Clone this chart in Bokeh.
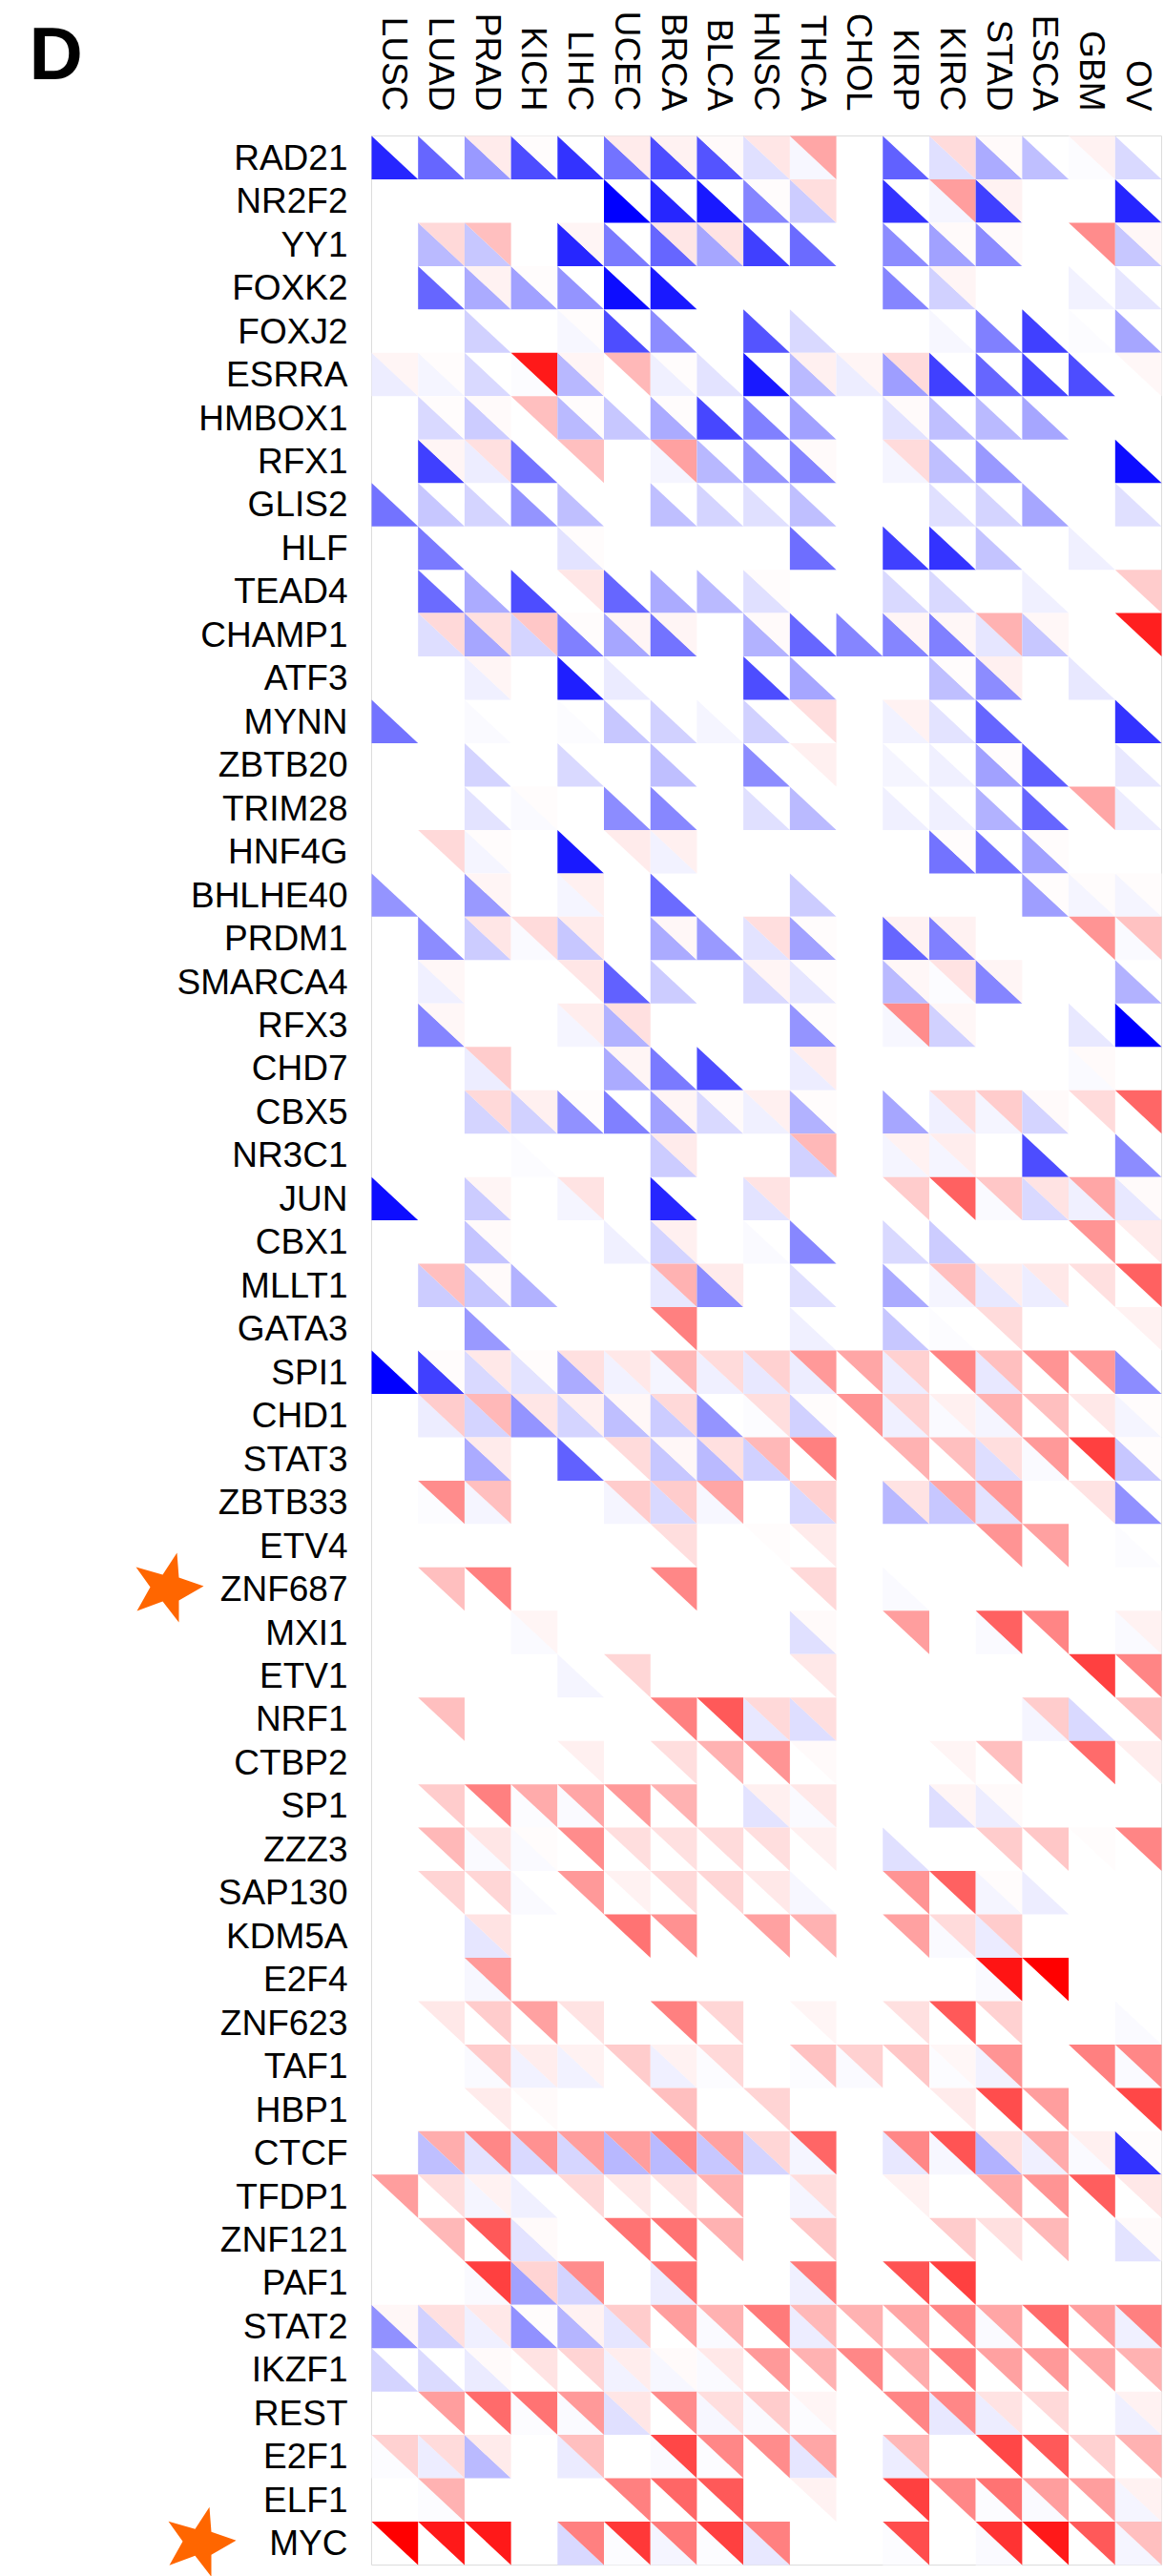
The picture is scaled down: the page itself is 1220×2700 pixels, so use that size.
import math
from bokeh.core.properties import value
from bokeh.embed import file_html
from bokeh.models import ColumnDataSource, Range1d
from bokeh.plotting import figure
from bokeh.resources import INLINE

CANCERS = ["LUSC", "LUAD", "PRAD", "KICH", "LIHC", "UCEC", "BRCA", "BLCA", "HNSC",
           "THCA", "CHOL", "KIRP", "KIRC", "STAD", "ESCA", "GBM", "OV"]
FACTORS = ["RAD21", "NR2F2", "YY1", "FOXK2", "FOXJ2", "ESRRA", "HMBOX1", "RFX1", "GLIS2", "HLF",
           "TEAD4", "CHAMP1", "ATF3", "MYNN", "ZBTB20", "TRIM28", "HNF4G", "BHLHE40", "PRDM1", "SMARCA4",
           "RFX3", "CHD7", "CBX5", "NR3C1", "JUN", "CBX1", "MLLT1", "GATA3", "SPI1", "CHD1",
           "STAT3", "ZBTB33", "ETV4", "ZNF687", "MXI1", "ETV1", "NRF1", "CTBP2", "SP1", "ZZZ3",
           "SAP130", "KDM5A", "E2F4", "ZNF623", "TAF1", "HBP1", "CTCF", "TFDP1", "ZNF121", "PAF1",
           "STAT2", "IKZF1", "REST", "E2F1", "ELF1", "MYC"]
STARRED = ["ZNF687", "MYC"]

# lower-left triangles: blue strength in percent
LOWER = [
    [85, 60, 40, 70, 80, 55, 70, 67, 12, 3, 0, 62, 12, 33, 25, 1, 15],
    [0, 0, 0, 0, 0, 100, 85, 90, 48, 20, 0, 80, 4, 75, 0, 0, 85],
    [0, 27, 22, 0, 85, 52, 60, 35, 75, 58, 0, 45, 37, 45, 0, 0, 22],
    [0, 60, 33, 37, 42, 95, 90, 0, 0, 0, 0, 48, 18, 0, 0, 5, 10],
    [0, 0, 18, 0, 3, 70, 45, 0, 67, 15, 0, 0, 3, 50, 75, 1, 35],
    [7, 4, 15, 1, 28, 0, 6, 11, 90, 27, 7, 38, 75, 60, 72, 70, 0],
    [0, 15, 20, 0, 27, 22, 33, 72, 50, 37, 0, 11, 25, 27, 35, 0, 0],
    [0, 75, 7, 55, 0, 0, 4, 28, 42, 48, 0, 4, 25, 40, 0, 0, 95],
    [55, 22, 17, 42, 25, 0, 25, 17, 12, 25, 0, 0, 12, 17, 35, 0, 12],
    [0, 52, 0, 0, 11, 0, 0, 0, 0, 57, 0, 75, 80, 23, 0, 6, 0],
    [0, 58, 33, 70, 0, 60, 33, 27, 12, 0, 0, 15, 15, 0, 6, 0, 0],
    [0, 13, 35, 17, 50, 35, 55, 0, 30, 60, 48, 48, 50, 10, 22, 0, 0],
    [0, 0, 6, 0, 88, 8, 0, 0, 70, 35, 0, 0, 25, 45, 0, 9, 0],
    [55, 0, 2, 0, 1, 22, 18, 4, 18, 0, 0, 5, 11, 60, 0, 0, 80],
    [0, 0, 17, 0, 15, 0, 25, 0, 45, 0, 0, 4, 6, 37, 63, 0, 9],
    [0, 0, 11, 2, 0, 45, 47, 0, 12, 27, 0, 6, 6, 30, 60, 0, 7],
    [0, 0, 4, 0, 90, 0, 5, 0, 0, 0, 0, 0, 55, 55, 37, 0, 0],
    [42, 0, 40, 0, 4, 0, 58, 0, 0, 20, 0, 0, 0, 0, 38, 4, 4],
    [0, 45, 20, 2, 22, 0, 33, 40, 11, 37, 0, 60, 50, 0, 0, 0, 2],
    [0, 6, 0, 0, 0, 62, 20, 0, 15, 10, 0, 27, 1, 48, 0, 0, 30],
    [0, 48, 0, 0, 4, 30, 0, 0, 0, 42, 0, 3, 18, 0, 0, 9, 100],
    [0, 0, 7, 0, 0, 33, 52, 70, 0, 7, 0, 0, 0, 0, 0, 2, 0],
    [0, 0, 17, 18, 43, 50, 37, 15, 6, 30, 0, 35, 6, 4, 17, 0, 0],
    [0, 0, 0, 1, 0, 0, 20, 0, 0, 18, 0, 4, 4, 0, 70, 0, 45],
    [95, 0, 20, 0, 4, 0, 85, 0, 11, 0, 0, 0, 0, 2, 15, 6, 9],
    [0, 0, 23, 0, 0, 6, 17, 0, 2, 47, 0, 15, 20, 0, 0, 0, 0],
    [0, 20, 22, 30, 0, 0, 9, 45, 0, 12, 0, 33, 4, 9, 7, 0, 0],
    [0, 0, 40, 0, 0, 0, 0, 0, 0, 6, 0, 22, 1, 0, 0, 0, 0],
    [100, 75, 15, 11, 33, 5, 4, 6, 9, 7, 0, 7, 0, 9, 0, 0, 45],
    [0, 7, 17, 42, 17, 25, 20, 42, 1, 18, 0, 6, 2, 4, 0, 0, 4],
    [0, 0, 33, 0, 62, 0, 22, 27, 18, 0, 0, 0, 0, 13, 2, 0, 22],
    [0, 1, 4, 0, 0, 4, 15, 3, 0, 15, 0, 28, 22, 11, 0, 0, 43],
    [0, 0, 0, 0, 0, 0, 0, 0, 0, 0, 0, 0, 0, 0, 0, 0, 1],
    [0, 0, 0, 0, 0, 0, 0, 0, 0, 0, 0, 2, 0, 0, 0, 0, 0],
    [0, 0, 0, 2, 0, 0, 0, 0, 0, 12, 0, 0, 0, 2, 0, 0, 2],
    [0, 0, 0, 0, 4, 0, 0, 0, 0, 0, 0, 0, 0, 0, 0, 0, 0],
    [0, 0, 0, 0, 0, 0, 0, 0, 9, 13, 0, 0, 0, 0, 4, 15, 0],
    [0, 0, 0, 0, 0, 0, 0, 0, 0, 0, 0, 0, 0, 0, 0, 0, 0],
    [0, 0, 0, 1, 2, 0, 0, 0, 11, 2, 0, 0, 13, 7, 0, 0, 0],
    [0, 0, 2, 2, 0, 0, 0, 0, 0, 0, 0, 12, 0, 0, 0, 0, 0],
    [0, 0, 0, 2, 0, 0, 0, 0, 0, 3, 0, 0, 0, 4, 7, 0, 0],
    [0, 0, 10, 0, 0, 0, 0, 0, 0, 0, 0, 0, 2, 8, 0, 0, 0],
    [0, 0, 3, 0, 0, 0, 0, 0, 0, 0, 0, 0, 0, 2, 0, 0, 0],
    [0, 0, 0, 0, 0, 0, 0, 0, 0, 0, 0, 0, 0, 0, 0, 0, 2],
    [0, 0, 2, 5, 5, 0, 6, 1, 0, 1, 2, 0, 1, 5, 0, 0, 2],
    [0, 0, 0, 0, 0, 0, 0, 0, 0, 0, 0, 0, 0, 0, 0, 0, 0],
    [0, 25, 11, 15, 16, 28, 27, 22, 17, 4, 0, 9, 3, 30, 6, 2, 80],
    [0, 0, 4, 6, 0, 0, 0, 0, 0, 4, 0, 0, 0, 0, 0, 0, 0],
    [0, 0, 0, 11, 0, 0, 0, 0, 0, 0, 0, 0, 0, 0, 0, 0, 11],
    [0, 0, 2, 37, 17, 0, 7, 0, 0, 6, 0, 0, 0, 0, 0, 0, 0],
    [43, 18, 6, 43, 29, 10, 0, 2, 0, 7, 0, 0, 0, 2, 0, 0, 6],
    [17, 14, 8, 0, 0, 5, 3, 2, 0, 0, 0, 0, 0, 0, 0, 0, 0],
    [0, 0, 0, 1, 2, 12, 0, 3, 2, 1, 0, 0, 9, 7, 0, 0, 6],
    [1, 7, 27, 0, 8, 0, 2, 1, 0, 10, 0, 7, 0, 0, 0, 0, 0],
    [0, 1, 0, 0, 0, 0, 0, 0, 0, 0, 0, 0, 0, 1, 2, 0, 4],
    [0, 0, 0, 0, 15, 1, 4, 1, 9, 0, 0, 1, 0, 2, 0, 0, 4],
]

# upper-right triangles: red strength in percent
UPPER = [
    [0, 0, 8, 1, 0, 8, 5, 2, 10, 35, 0, 0, 14, 2, 0, 5, 0],
    [0, 0, 0, 0, 0, 0, 0, 0, 1, 13, 0, 0, 38, 5, 0, 0, 0],
    [0, 15, 25, 0, 4, 0, 10, 11, 0, 0, 0, 0, 2, 2, 0, 45, 3],
    [0, 0, 5, 1, 0, 0, 0, 0, 0, 0, 0, 0, 4, 0, 0, 0, 0],
    [0, 0, 0, 0, 1, 0, 0, 0, 0, 0, 0, 0, 0, 0, 0, 0, 0],
    [4, 1, 0, 90, 4, 28, 1, 0, 0, 6, 4, 14, 0, 0, 0, 0, 3],
    [0, 1, 2, 25, 1, 0, 1, 0, 0, 0, 0, 2, 0, 0, 0, 0, 0],
    [0, 4, 12, 0, 25, 0, 37, 0, 0, 2, 0, 14, 0, 0, 0, 0, 0],
    [0, 0, 0, 0, 0, 0, 0, 0, 0, 0, 0, 0, 0, 0, 0, 0, 0],
    [0, 0, 0, 0, 1, 0, 0, 0, 0, 0, 0, 0, 0, 0, 0, 0, 0],
    [0, 0, 0, 0, 10, 0, 0, 0, 1, 0, 0, 0, 0, 0, 0, 0, 20],
    [0, 15, 12, 22, 1, 4, 4, 0, 2, 0, 0, 4, 3, 30, 3, 0, 88],
    [0, 0, 4, 0, 0, 0, 0, 0, 0, 0, 0, 0, 1, 6, 0, 0, 0],
    [0, 0, 0, 0, 0, 0, 0, 0, 0, 13, 0, 5, 0, 0, 0, 0, 0],
    [0, 0, 0, 0, 0, 0, 0, 0, 0, 6, 0, 0, 0, 1, 0, 0, 0],
    [0, 0, 0, 1, 0, 0, 0, 0, 0, 0, 0, 0, 0, 0, 0, 35, 0],
    [0, 15, 1, 0, 0, 8, 6, 0, 0, 0, 0, 0, 1, 0, 1, 0, 0],
    [0, 0, 4, 0, 6, 0, 0, 0, 0, 0, 0, 0, 0, 0, 1, 1, 1],
    [0, 0, 10, 14, 8, 0, 3, 0, 13, 1, 0, 5, 5, 0, 0, 42, 24],
    [0, 3, 0, 0, 10, 0, 0, 0, 4, 1, 0, 3, 11, 4, 0, 0, 0],
    [0, 3, 0, 0, 7, 12, 0, 0, 0, 1, 0, 45, 3, 0, 0, 0, 0],
    [0, 0, 20, 0, 0, 4, 0, 0, 0, 7, 0, 0, 0, 0, 0, 2, 0],
    [0, 0, 15, 6, 1, 0, 4, 2, 6, 1, 0, 0, 14, 20, 2, 14, 60],
    [0, 0, 0, 0, 0, 0, 8, 0, 0, 28, 0, 5, 7, 0, 0, 0, 0],
    [0, 0, 4, 0, 11, 0, 0, 0, 11, 0, 0, 20, 62, 22, 11, 35, 2],
    [0, 0, 2, 0, 0, 0, 6, 0, 0, 0, 0, 0, 0, 0, 0, 42, 8],
    [0, 25, 2, 0, 0, 0, 30, 8, 0, 0, 0, 0, 25, 7, 9, 12, 62],
    [0, 0, 0, 0, 0, 0, 50, 0, 0, 0, 0, 0, 0, 14, 0, 0, 5],
    [0, 1, 9, 1, 12, 9, 28, 14, 18, 40, 35, 18, 48, 25, 42, 40, 0],
    [0, 20, 28, 10, 6, 3, 15, 0, 13, 1, 42, 18, 6, 30, 25, 9, 1],
    [0, 0, 8, 0, 0, 14, 3, 12, 28, 50, 0, 30, 25, 13, 40, 75, 1],
    [0, 45, 25, 0, 0, 20, 20, 35, 0, 18, 0, 11, 35, 40, 0, 11, 0],
    [0, 0, 0, 0, 0, 0, 13, 0, 1, 8, 0, 0, 0, 42, 37, 0, 0],
    [0, 25, 50, 0, 0, 0, 47, 0, 0, 15, 0, 0, 0, 0, 0, 0, 0],
    [0, 0, 0, 4, 0, 0, 0, 0, 0, 2, 0, 38, 0, 62, 48, 0, 5],
    [0, 0, 0, 0, 0, 16, 0, 0, 0, 9, 0, 0, 0, 0, 0, 75, 48],
    [0, 25, 0, 0, 0, 0, 50, 65, 15, 13, 0, 0, 0, 0, 20, 0, 25],
    [0, 0, 0, 0, 6, 0, 13, 30, 42, 2, 0, 0, 4, 25, 0, 58, 7],
    [0, 20, 50, 33, 35, 40, 30, 0, 6, 9, 0, 0, 4, 2, 0, 0, 0],
    [0, 28, 10, 1, 45, 13, 12, 14, 13, 6, 0, 0, 0, 20, 22, 1, 48],
    [0, 17, 16, 0, 40, 5, 15, 16, 9, 0, 0, 42, 62, 1, 0, 0, 0],
    [0, 0, 11, 0, 0, 55, 43, 0, 37, 30, 0, 37, 14, 20, 0, 0, 0],
    [0, 0, 40, 0, 0, 0, 0, 0, 0, 0, 0, 0, 0, 92, 100, 0, 0],
    [0, 9, 20, 37, 11, 0, 50, 16, 0, 4, 0, 12, 65, 18, 0, 0, 0],
    [0, 0, 20, 7, 5, 20, 5, 15, 0, 24, 18, 22, 3, 42, 0, 50, 47],
    [0, 0, 8, 2, 0, 0, 25, 0, 17, 0, 0, 0, 8, 70, 38, 0, 72],
    [0, 32, 47, 43, 38, 38, 47, 37, 16, 60, 0, 47, 67, 12, 33, 6, 1],
    [38, 13, 5, 0, 15, 9, 11, 30, 0, 13, 0, 5, 0, 33, 42, 63, 9],
    [0, 28, 65, 2, 0, 55, 55, 30, 0, 22, 0, 0, 20, 12, 28, 0, 2],
    [0, 0, 75, 17, 45, 0, 55, 0, 0, 52, 0, 68, 75, 0, 0, 0, 0],
    [3, 12, 9, 1, 5, 20, 38, 30, 52, 28, 30, 35, 48, 35, 58, 38, 50],
    [0, 0, 2, 11, 17, 7, 2, 9, 40, 30, 47, 32, 52, 37, 40, 35, 30],
    [0, 38, 58, 55, 40, 10, 45, 13, 20, 4, 0, 48, 47, 11, 15, 0, 5],
    [18, 14, 8, 0, 25, 0, 72, 47, 45, 35, 0, 28, 0, 72, 65, 18, 30],
    [0, 30, 0, 0, 0, 50, 60, 65, 0, 5, 0, 75, 47, 55, 38, 38, 5],
    [100, 90, 90, 0, 50, 78, 52, 75, 50, 0, 0, 70, 0, 80, 90, 65, 25],
]

assert len(LOWER) == len(UPPER) == len(FACTORS)
assert all(len(r) == len(CANCERS) for r in LOWER + UPPER)


def shade(strength, blue):
    c = round(255 * (1 - strength / 100))
    return f"#{c:02x}{c:02x}ff" if blue else f"#ff{c:02x}{c:02x}"


xs, ys, fills = [], [], []
for r, name in enumerate(FACTORS):
    for c, cancer in enumerate(CANCERS):
        lo, up = LOWER[r][c], UPPER[r][c]
        if lo:
            xs.append([c, c, c + 1]); ys.append([r, r + 1, r + 1]); fills.append(shade(lo, True))
        if up:
            xs.append([c, c + 1, c + 1]); ys.append([r, r, r + 1]); fills.append(shade(up, False))

W, H = 1220, 2700
LEFT, TOP, FRAME_W, FRAME_H = 389, 142, 828, 2546
CELL_W = FRAME_W / len(CANCERS)
CELL_H = FRAME_H / len(FACTORS)


def data_x(px):
    return (px - LEFT) / CELL_W


def data_y(px):
    return (px - TOP) / CELL_H


# The frame fills the whole page, so that labels, letter and stars are not cut by it.
p = figure(width=W, height=H, output_backend="svg", toolbar_location=None,
           x_range=Range1d(data_x(0), data_x(W)), y_range=Range1d(data_y(H), data_y(0)),
           x_axis_location=None, y_axis_location=None, min_border=0,
           background_fill_color="white", border_fill_color="white")
p.grid.visible = False
p.outline_line_color = None

p.quad(left=0, right=len(CANCERS), top=0, bottom=len(FACTORS),
       fill_color=None, line_color="#dcdcdc", line_width=1)
p.patches("xs", "ys", fill_color="fills", line_color=None,
          source=ColumnDataSource(dict(xs=xs, ys=ys, fills=fills)))

FONT = value("Liberation Sans")
p.text(x=[i + 0.5 for i in range(len(CANCERS))], y=[data_y(116)] * len(CANCERS), text=CANCERS,
       angle=-math.pi / 2, text_align="right", text_baseline="middle",
       text_font=FONT, text_font_size="37px", text_color="black")
p.text(x=[data_x(364)] * len(FACTORS), y=[i + 0.5 for i in range(len(FACTORS))], text=FACTORS,
       text_align="right", text_baseline="middle",
       text_font=FONT, text_font_size="37px", text_color="black")
p.text(x=[data_x(30)], y=[data_y(55)], text=["D"], text_align="left", text_baseline="alphabetic",
       text_font=FONT, text_font_style="bold", text_font_size="78px", text_color="black")

# star outline around its centre, in pixels
STAR_DX = [4, -11, -39, -24, -38, -11, 6, 6, 32, 6]
STAR_DY = [-38, -15, -23, -2, 23, 13, 35, 12, -3, -12]
STAR_CENTRES = {"ZNF687": 181, "MYC": 215}
star_xs, star_ys = [], []
for name in STARRED:
    star_xs.append([data_x(STAR_CENTRES[name] + d) for d in STAR_DX])
    star_ys.append([FACTORS.index(name) + 0.5 + d / CELL_H for d in STAR_DY])
p.patches(star_xs, star_ys, fill_color="#ff6600", line_color=None)

open("out.html", "w").write(file_html(p, INLINE))
